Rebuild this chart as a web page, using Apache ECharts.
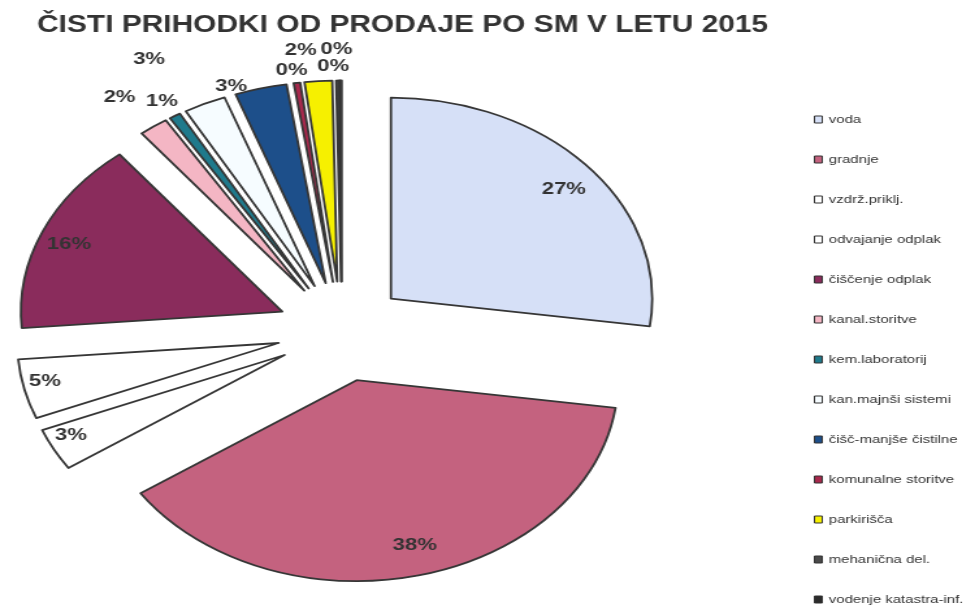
<!DOCTYPE html>
<html>
<head>
<meta charset="utf-8">
<title>Čisti prihodki od prodaje po SM v letu 2015</title>
<script src="https://cdn.jsdelivr.net/npm/echarts@6/dist/echarts.min.js"></script>
<style>
  html, body { margin: 0; padding: 0; background: #fff; overflow: hidden; }
  /* original picture is stretched sideways, so is the chart */
  #main { width: 744px; height: 607px; transform: scaleX(1.3); transform-origin: 0 0; }
</style>
</head>
<body>
<div id="main"></div>
<script>
// deleži prihodkov po SM (v %)
const names = ['voda', 'gradnje', 'vzdrž.priklj.', 'odvajanje odplak', 'čiščenje odplak', 'kanal.storitve',
  'kem.laboratorij', 'kan.majnši sistemi', 'čišč-manjše čistilne', 'komunalne storitve', 'parkirišča',
  'mehanična del.', 'vodenje katastra-inf.']
const values = [27.2, 38.3, 3.4, 4.8, 15.6, 1.8, 0.7, 2.6, 3.2, 0.4, 1.7, 0.2, 0.1]

const colors = ['#d6e0f7', '#c4627f', '#ffffff', '#ffffff', '#8a2c5c', '#f4b6c4', '#1f7a8c',
  '#f6fcff', '#1d4f8a', '#a8284c', '#f6f000', '#4a4a4a', '#2b2b2b']
// label placement: labelLine length / length2 (line itself is hidden)
const labelLen = [-34, -31, -31, -36, -31, 36, 17, 49, 2, 13, 31, 14, 31]
const labelLen2 = [-10, -11, 2, 7, -9, -7, -11, 10, 10, -10, -1, -9, -9]

const font = '"Liberation Sans", Arial, sans-serif'
const border = { borderColor: '#363636', borderWidth: 1.8 }

const chart = echarts.init(document.getElementById('main'))
chart.setOption({
  animation: false,
  title: {
    text: 'ČISTI PRIHODKI OD PRODAJE PO SM V LETU 2015',
    left: 28.5,
    top: 14,
    padding: 0,
    textStyle: { fontFamily: font, fontSize: 23, fontWeight: 'bold', color: '#333' }
  },
  legend: {
    orient: 'vertical',
    left: 626,
    top: 113.5,
    padding: 0,
    icon: 'rect',
    itemWidth: 6,
    itemHeight: 7,
    itemGap: 28,
    selectedMode: false,
    itemStyle: { borderColor: '#333', borderWidth: 1 },
    textStyle: { fontFamily: font, fontSize: 11.5, lineHeight: 12, color: '#333' }
  },
  series: [
    {
      type: 'pie',
      center: [263, 331.5],
      radius: 201,
      startAngle: 90,
      clockwise: true,
      selectedMode: 'multiple',
      selectedOffset: 50,
      avoidLabelOverlap: false,
      percentPrecision: 0,
      labelLayout: { hideOverlap: false },
      emphasis: { disabled: true },
      itemStyle: border,
      select: { itemStyle: border },
      label: {
        show: true,
        position: 'outside',
        formatter: '{d}%',
        fontFamily: font,
        fontSize: 17,
        fontWeight: 'bold',
        color: '#333',
        distanceToLabelLine: 0
      },
      labelLine: { show: false },
      data: names.map((name, i) => ({
        name: name,
        value: values[i],
        selected: true,
        itemStyle: { color: colors[i] },
        labelLine: { length: labelLen[i], length2: labelLen2[i] }
      }))
    }
  ]
})
</script>
</body>
</html>
